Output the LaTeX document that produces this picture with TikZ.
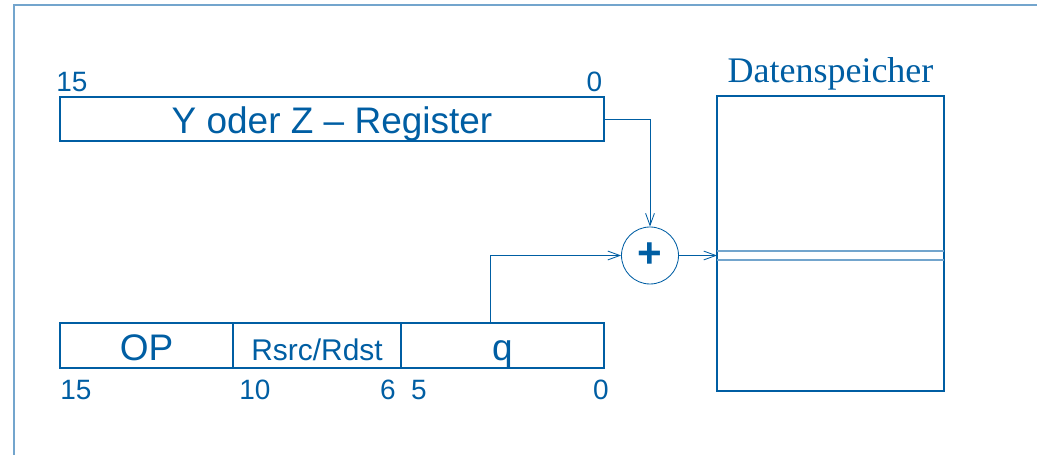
\documentclass[tikz,border=0pt]{standalone}
\usepackage{fontspec}
\setmainfont{Liberation Serif}
\setsansfont{Liberation Sans}
\usetikzlibrary{positioning,arrows.meta}
\definecolor{avrblue}{RGB}{0,94,163}
\definecolor{avrlight}{RGB}{115,165,205}
\begin{document}
\begin{tikzpicture}[
    field/.style={draw=avrblue,line width=0.8pt,rectangle,minimum height=1.125cm,inner sep=0pt,outer sep=0pt,
      text height=0.75cm,text depth=0pt,text=avrblue,font=\sffamily\fontsize{26.3}{30}\selectfont},
    num/.style={anchor=base,inner sep=0pt,text=avrblue,font=\sffamily\fontsize{19.9}{22}\selectfont},
    conn/.style={draw=avrblue,line width=0.6pt,-{Straight Barb[length=3mm,width=2.2mm]}},
    slot/.style={draw=avrlight,line width=1.2pt},
    scale=1]
    \useasboundingbox (0,0) rectangle (25.925,11.375);
    \draw[avrlight,line width=0.8pt] (0.35,0) -- (0.35,11.25) -- (25.925,11.25);
    % pointer register
    \node[field,minimum width=13.6cm,minimum height=1.1cm] (ptr) at (8.3,8.4) {Y oder Z – Register};
    \node[num] (ptrhi) at (1.8,9.075) {15};
    \node[num] (ptrlo) at (14.8625,9.075) {0};
    % instruction word
    \node[field,minimum width=4.325cm] (op) at (3.6625,2.7375) {OP};
    \node[field,minimum width=4.2cm,right=0pt of op,font=\sffamily\fontsize{21.3}{24}\selectfont] (rr) {Rsrc/Rdst};
    \node[field,minimum width=5.075cm,right=0pt of rr] (q) {q};
    \node[num] (b15) at (1.9,1.375) {15};
    \node[num] (b10) at (6.375,1.375) {10};
    \node[num] (b6) at (9.7,1.375) {6};
    \node[num] (b5) at (10.475,1.375) {5};
    \node[num] (b0) at (15.025,1.375) {0};
    % data memory
    \node[draw=avrblue,line width=0.8pt,minimum width=5.675cm,minimum height=7.375cm,inner sep=0pt,outer sep=0pt] (mem) at (20.7625,5.2875) {};
    \node[anchor=base,text=avrblue,font=\fontsize{25.6}{28}\selectfont] (memname) at ([yshift=0.325cm]mem.north) {Datenspeicher};
    \node[circle,draw=avrblue,line width=0.6pt,minimum size=1.425cm,inner sep=0pt,text=avrblue,
      font=\sffamily\bfseries\fontsize{30}{32}\selectfont] (plus) at (16.25,4.9875) {+};
    \coordinate (slotw) at (plus -| mem.west);
    \coordinate (slote) at (plus -| mem.east);
    \draw[slot] ([yshift=0.1125cm]slotw) -- ([yshift=0.1125cm]slote);
    \draw[slot] ([yshift=-0.1125cm]slotw) -- ([yshift=-0.1125cm]slote);
    % connectors
    \draw[conn] (ptr.east) -| (plus.north);
    \draw[conn] ([xshift=-0.3cm]q.north) |- (plus.west);
    \draw[conn] (plus.east) -- (slotw);
  \end{tikzpicture}
\end{document}
